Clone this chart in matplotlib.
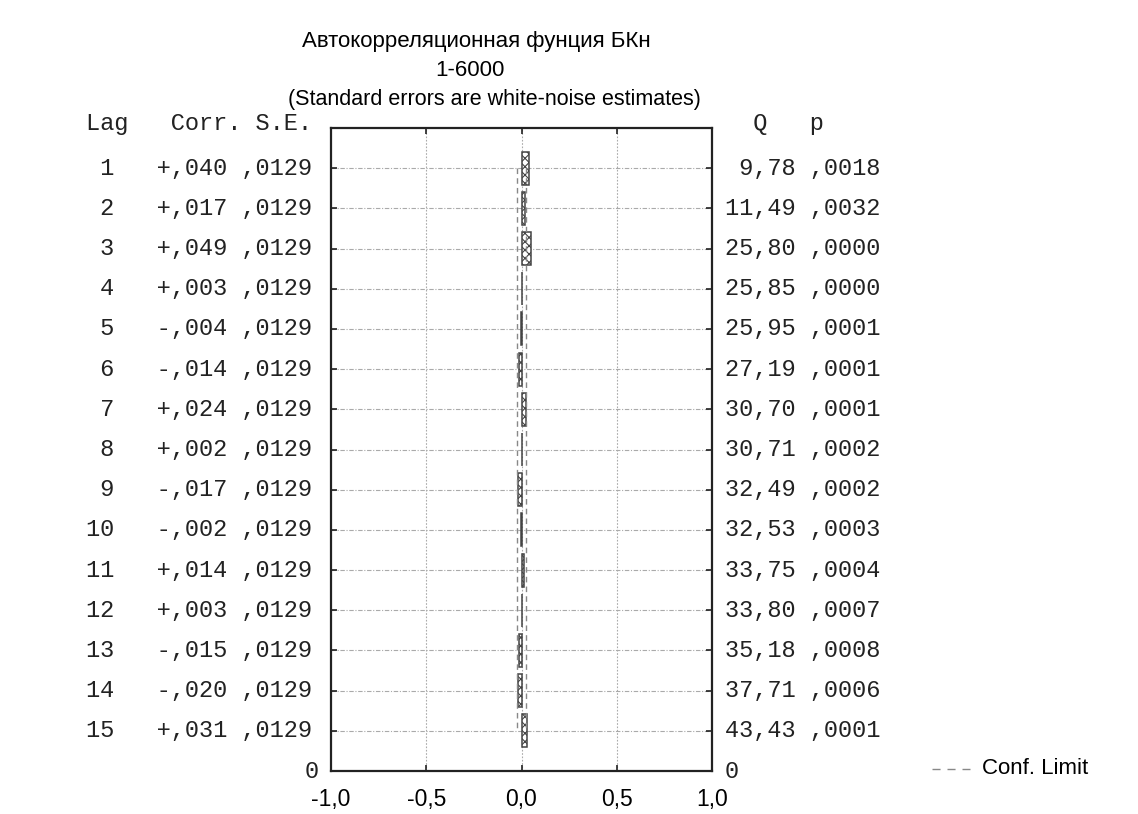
import matplotlib.pyplot as plt
from matplotlib.transforms import blended_transform_factory
import numpy as np

TITLE = ["Автокорреляционная фунция БКн", "1-6000", "(Standard errors are white-noise estimates)"]
lags = np.arange(1, 16)
corr = [0.040, 0.017, 0.049, 0.003, -0.004, -0.014, 0.024, 0.002,
        -0.017, -0.002, 0.014, 0.003, -0.015, -0.020, 0.031]
se = [0.0129] * 15
q_stat = [9.78, 11.49, 25.80, 25.85, 25.95, 27.19, 30.70, 30.71,
          32.49, 32.53, 33.75, 33.80, 35.18, 37.71, 43.43]
p_val = [0.0018, 0.0032, 0.0000, 0.0000, 0.0001, 0.0001, 0.0001, 0.0002,
         0.0002, 0.0003, 0.0004, 0.0007, 0.0008, 0.0006, 0.0001]
X_TICKS = [-1.0, -0.5, 0.0, 0.5, 1.0]

W, H = 1138, 814
SANS = "Liberation Sans"
MONO = "Liberation Mono"
plt.rcParams['hatch.color'] = '#555555'
plt.rcParams['hatch.linewidth'] = 0.8


def comma(s):
    return s.replace('.', ',')


fig = plt.figure(figsize=(W / 100, H / 100), dpi=100, facecolor='white')
ax = fig.add_axes([331 / W, 1 - 771 / H, (712 - 331) / W, (771 - 128) / H])

# grid
for xv in X_TICKS[1:-1]:
    ax.axvline(xv, color='#aaaaaa', lw=0.8, ls=(0, (1.5, 1.5)), zorder=0)
for lg in lags:
    ax.axhline(lg, color='#aaaaaa', lw=0.8, ls=(0, (4, 1.5, 1, 1.5)), zorder=0)

# bars
ax.barh(lags, corr, height=0.82, color='white', edgecolor='#444444',
        hatch='xxxx', linewidth=1.1, zorder=3)

# confidence limits
lim = 2 * np.array(se)
ax.plot(lim, lags, color='#888888', ls=(0, (4, 3)), lw=1.0, zorder=4)
ax.plot(-lim, lags, color='#888888', ls=(0, (4, 3)), lw=1.0, zorder=4)

ax.set_xlim(-1.0, 1.0)
ax.set_ylim(16, 0)
ax.set_xticks(X_TICKS)
ax.set_xticklabels([comma(f"{v:.1f}") for v in X_TICKS], fontsize=16.5,
                   family=SANS)
ax.set_yticks(lags)
ax.set_yticklabels([])
ax.tick_params(direction='in', length=4, width=1.2, top=True, right=True,
               color='#222222', pad=12)
for s in ax.spines.values():
    s.set_linewidth(1.6)
    s.set_color('#222222')

# table text on both sides
tr = blended_transform_factory(fig.transFigure, ax.transData)
mono = dict(family=MONO, fontsize=17, color='#222222', va='center', transform=tr)
ax.text(86 / W, -0.1, "Lag   Corr. S.E.", ha='left', **mono)
ax.text(725 / W, -0.1, "  Q   p", ha='left', **mono)
for lg, c, s, q, p in zip(lags, corr, se, q_stat, p_val):
    cs = ('+' if c >= 0 else '-') + comma(f"{abs(c):.3f}")[1:]
    ss = comma(f"{s:.4f}")[1:]
    ax.text(86 / W, lg, f"{lg:>2}   {cs} {ss}", ha='left', **mono)
    qs = comma(f"{q:5.2f}")
    ps = comma(f"{p:.4f}")[1:]
    ax.text(725 / W, lg, f"{qs} {ps}", ha='left', **mono)
ax.text(319 / W, 16, "0", ha='right', **mono)
ax.text(725 / W, 16, "0", ha='left', **mono)

# title lines
fig.text(476 / W, 1 - 41 / H, TITLE[0], ha='center', va='center', family=SANS, fontsize=16)
fig.text(470 / W, 1 - 70 / H, TITLE[1], ha='center', va='center', family=SANS, fontsize=16)
fig.text(494 / W, 1 - 99 / H, TITLE[2], ha='center', va='center', family=SANS, fontsize=15.5)

# legend
fig.add_artist(plt.Line2D([932 / W, 970 / W], [1 - 769 / H] * 2, color='#888888',
                          ls=(0, (5.8, 5)), lw=1.0))
fig.text(982 / W, 1 - 769 / H, "Conf. Limit", ha='left', va='center', family=SANS,
         fontsize=16)

plt.savefig("out.png", dpi=100, facecolor='white')
